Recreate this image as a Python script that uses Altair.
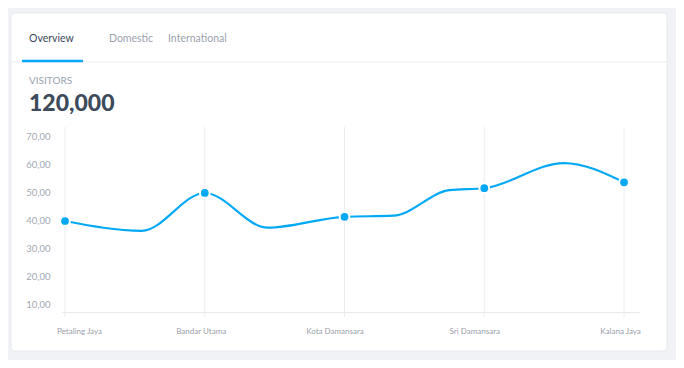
import altair as alt
import pandas as pd

# ---- data ----
categories = ["Petaling Jaya", "Bandar Utama", "Kota Damansara", "Sri Damansara", "Kalana Jaya"]
cat_pos = [0, 1, 2, 3, 4]
cat_values = [40, 50, 41.5, 51.7, 53.8]

curve_pos = [0, 0.55, 1, 1.45, 2, 2.35, 2.75, 3, 3.57, 4]
curve_values = [40, 36.5, 50, 37.6, 41.5, 41.9, 51.0, 51.7, 60.7, 53.8]

y_ticks = [10, 20, 30, 40, 50, 60, 70]
tabs = ["Overview", "Domestic", "International"]
metric_label = "VISITORS"
metric_value = "120,000"

BLUE = "#03a9f4"
FONT = "Lato"

points_df = pd.DataFrame({"pos": cat_pos, "value": cat_values, "name": categories})
curve_df = pd.DataFrame({"pos": curve_pos, "value": curve_values})
grid_df = pd.DataFrame({"pos": cat_pos})

x_scale = alt.Scale(domain=[-0.0215, 4.107], nice=False, zero=False)
y_scale = alt.Scale(domain=[7.5, 73.57], nice=False, zero=False)

label_expr = "[" + ",".join("'%s'" % c for c in categories) + "][datum.value]"

x_axis = alt.Axis(
    values=cat_pos, labelExpr=label_expr, title=None, grid=False, ticks=False, tickSize=0,
    domain=True, domainColor="#e8e9ed", domainWidth=1,
    labelFont=FONT, labelFontSize=8, labelColor="#9aa0aa", labelPadding=15,
    labelFlush=False, labelOverlap=False, labelBound=False, zindex=1,
    labelOffset={"expr": "datum.value == 0 ? 14 : (datum.value == 2 || datum.value == 3 ? -10 : -4)"},
)
y_axis = alt.Axis(
    values=y_ticks, labelExpr="replace(format(datum.value, '.2f'), '.', ',')", title=None,
    grid=False, ticks=False, tickSize=0, domain=False, labelOverlap=False, labelFlush=False,
    labelBound=False, tickCount=7,
    labelFont=FONT, labelFontSize=9.5, labelColor="#a3a9b4", labelPadding=12, zindex=1,
)

one = alt.Data(values=[{}])

card = alt.Chart(one).mark_rect(fill="white", stroke="#e7e9ee", strokeWidth=1, cornerRadius=4).encode(
    x=alt.value(-51), x2=alt.value(605), y=alt.value(-114), y2=alt.value(224)
)
separator = alt.Chart(one).mark_rule(color="#eceef2", strokeWidth=1).encode(
    x=alt.value(-51), x2=alt.value(605), y=alt.value(-65)
)
underline = alt.Chart(one).mark_rule(color=BLUE, strokeWidth=2.5, strokeCap="round").encode(
    x=alt.value(-39), x2=alt.value(20), y=alt.value(-66)
)
tab_x = [-33, 47, 106]
tab_colors = ["#3c4858", "#9ba2ae", "#9ba2ae"]
tab_layers = [
    alt.Chart(one).mark_text(text=t, font=FONT, fontSize=10.5, color=c, align="left", baseline="middle").encode(
        x=alt.value(xx), y=alt.value(-88)
    )
    for t, xx, c in zip(tabs, tab_x, tab_colors)
]
visitors = alt.Chart(one).mark_text(text=metric_label, font=FONT, fontSize=10, color="#9aa1ad",
                                    align="left", baseline="middle").encode(x=alt.value(-33), y=alt.value(-46))
big = alt.Chart(one).mark_text(text=metric_value, font=FONT, fontSize=23, fontWeight=900, color="#3d4a5b",
                               align="left", baseline="middle").encode(x=alt.value(-33), y=alt.value(-23))

line = alt.Chart(curve_df).mark_line(color=BLUE, strokeWidth=2.2, interpolate="monotone").encode(
    x=alt.X("pos:Q", scale=x_scale, axis=x_axis),
    y=alt.Y("value:Q", scale=y_scale, axis=y_axis),
)
grid = alt.Chart(grid_df).mark_rule(color="#ededf0", strokeWidth=1).encode(
    x=alt.X("pos:Q", scale=x_scale, axis=x_axis), y=alt.value(0), y2=alt.value(190)
)
pts = alt.Chart(points_df).mark_circle(color=BLUE, size=95, opacity=1, stroke="white", strokeWidth=2).encode(
    x=alt.X("pos:Q", scale=x_scale, axis=x_axis),
    y=alt.Y("value:Q", scale=y_scale, axis=y_axis),
)

chart = alt.layer(card, separator, underline, *tab_layers, visitors, big, grid, line, pts).properties(
    width=577, height=185,
    padding={"left": 54, "top": 119, "right": 37, "bottom": 48},
    autosize=alt.AutoSizeParams(type="none"),
).configure(background="#f1f2f6").configure_view(strokeWidth=0)

chart.save("out.html", embed_options={"renderer": "svg", "actions": False})
